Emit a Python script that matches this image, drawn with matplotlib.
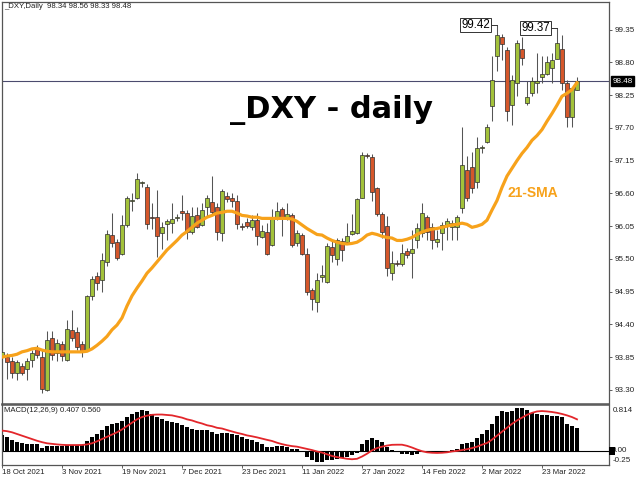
import matplotlib
matplotlib.use('Agg')
import matplotlib.pyplot as plt
import numpy as np
from matplotlib.transforms import blended_transform_factory
from matplotlib.patches import Rectangle

plt.rcParams['font.family'] = ['Liberation Sans', 'DejaVu Sans']

# ---------------- data ----------------
opens = [93.85, 93.85, 93.79, 93.58, 93.70, 93.65, 93.80, 93.99, 93.85, 93.30,
         94.17, 93.92, 94.07, 93.80, 94.30, 94.27, 94.07, 93.97, 94.88, 95.21,
         95.14, 95.45, 95.90, 95.78, 95.58, 96.07, 96.47, 96.53, 96.77, 96.70,
         96.20, 96.20, 95.93, 96.08, 96.10, 96.19, 96.30, 96.27, 95.95, 96.23,
         96.07, 96.37, 96.45, 96.37, 95.93, 96.55, 96.52, 96.47, 96.05, 96.12,
         96.03, 96.15, 95.86, 95.95, 95.73, 96.20, 96.33, 96.20, 96.23, 95.76,
         95.90, 95.58, 94.98, 94.77, 95.19, 95.11, 95.70, 95.50, 95.80, 95.78,
         95.91, 95.93, 96.53, 97.24, 97.21, 96.69, 96.25, 96.05, 95.26, 95.43,
         95.41, 95.63, 95.60, 95.81, 95.93, 96.20, 96.03, 95.78, 95.93, 96.05,
         96.03, 96.03, 96.35, 97.00, 97.04, 96.79, 97.36, 97.46, 98.06, 98.91,
         99.23, 99.01, 98.08, 98.46, 99.03, 98.11, 98.29, 98.46, 98.55, 98.61,
         98.70, 98.86, 99.03, 98.46, 97.88, 98.34]
highs = [94.17, 93.92, 93.85, 93.80, 93.75, 93.84, 93.97, 94.05, 93.97, 94.29,
         94.29, 94.15, 94.12, 94.47, 94.64, 94.35, 94.12, 94.89, 95.21, 95.28,
         95.60, 95.98, 96.27, 95.83, 96.23, 96.55, 96.60, 96.94, 96.80, 96.75,
         96.43, 96.65, 96.12, 96.17, 96.43, 96.25, 96.57, 96.32, 96.37, 96.37,
         96.43, 96.57, 96.89, 96.43, 96.67, 96.62, 96.60, 96.58, 96.10, 96.18,
         96.23, 96.27, 96.07, 96.10, 96.33, 96.45, 96.37, 96.43, 96.27, 95.98,
         95.93, 95.68, 95.01, 95.26, 95.39, 95.76, 95.81, 95.85, 95.85, 96.10,
         96.25, 96.53, 97.29, 97.27, 97.26, 96.70, 96.28, 96.22, 95.63, 95.48,
         95.75, 95.68, 95.98, 96.10, 96.43, 96.23, 96.10, 95.98, 96.12, 96.18,
         96.15, 96.23, 97.71, 97.22, 97.29, 97.54, 97.41, 97.77, 98.91, 99.42,
         99.28, 99.05, 98.58, 99.17, 99.23, 98.48, 98.55, 98.95, 98.91, 98.91,
         98.95, 99.37, 99.25, 98.50, 98.38, 98.56]
lows = [93.80, 93.48, 93.50, 93.47, 93.55, 93.47, 93.69, 93.84, 93.25, 93.28,
        93.80, 93.79, 93.79, 93.79, 94.12, 93.97, 93.85, 93.95, 94.81, 94.98,
        94.94, 95.38, 95.70, 95.48, 95.56, 96.03, 96.30, 96.50, 96.70, 96.00,
        96.00, 95.53, 95.66, 95.81, 95.93, 96.13, 96.15, 95.83, 95.91, 96.02,
        96.05, 96.20, 96.25, 95.81, 95.80, 96.45, 96.37, 96.00, 95.98, 96.02,
        95.98, 95.73, 95.85, 95.56, 95.71, 96.15, 95.88, 96.15, 95.70, 95.71,
        95.56, 94.89, 94.64, 94.61, 95.11, 95.09, 95.45, 95.40, 95.46, 95.76,
        95.90, 95.91, 96.52, 97.19, 96.48, 96.22, 95.85, 95.21, 95.14, 95.38,
        95.38, 95.51, 95.18, 95.68, 95.86, 95.81, 95.66, 95.70, 95.65, 95.81,
        95.81, 95.81, 96.27, 96.48, 96.60, 96.69, 97.27, 97.44, 97.82, 98.66,
        98.83, 97.82, 97.74, 98.24, 98.75, 98.08, 98.24, 98.29, 98.45, 98.58,
        98.45, 98.85, 98.33, 97.71, 97.71, 98.33]
closes = [93.94, 93.77, 93.58, 93.77, 93.58, 93.79, 93.92, 93.89, 93.32, 94.14,
          93.89, 94.09, 93.87, 94.32, 94.17, 94.02, 93.95, 94.88, 95.16, 95.09,
          95.48, 95.91, 95.76, 95.51, 96.07, 96.52, 96.48, 96.84, 96.79, 96.08,
          96.19, 95.88, 96.03, 96.13, 96.17, 96.20, 96.27, 95.95, 96.22, 96.03,
          96.32, 96.53, 96.28, 95.95, 96.64, 96.50, 96.47, 96.08, 96.03, 96.05,
          96.15, 95.88, 95.96, 95.58, 96.20, 96.30, 96.20, 96.25, 95.73, 95.93,
          95.58, 94.94, 94.82, 95.14, 95.23, 95.71, 95.56, 95.81, 95.65, 95.88,
          95.96, 96.50, 97.24, 97.22, 96.62, 96.25, 95.96, 95.34, 95.43, 95.42,
          95.60, 95.56, 95.66, 96.02, 96.27, 95.96, 95.81, 95.83, 96.07, 96.13,
          96.10, 96.20, 97.07, 96.53, 96.69, 97.36, 97.37, 97.72, 98.51, 99.25,
          99.10, 97.99, 98.51, 99.12, 98.88, 98.21, 98.49, 98.49, 98.61, 98.80,
          98.83, 99.12, 98.46, 97.88, 98.36, 98.48]
sma21 = [93.85, 93.87, 93.88, 93.90, 93.94, 93.96, 93.99, 94.00, 93.97, 93.95,
         93.94, 93.94, 93.94, 93.94, 93.94, 93.94, 93.94, 93.95, 93.99, 94.05,
         94.12, 94.20, 94.31, 94.39, 94.51, 94.71, 94.88, 95.01, 95.13, 95.26,
         95.35, 95.45, 95.55, 95.65, 95.73, 95.81, 95.90, 95.96, 96.03, 96.10,
         96.15, 96.20, 96.23, 96.27, 96.28, 96.30, 96.30, 96.27, 96.23, 96.22,
         96.20, 96.20, 96.18, 96.18, 96.18, 96.18, 96.18, 96.18, 96.17, 96.13,
         96.07, 96.01, 95.96, 95.91, 95.90, 95.85, 95.81, 95.78, 95.76, 95.75,
         95.76, 95.78, 95.83, 95.90, 95.93, 95.91, 95.88, 95.86, 95.85, 95.81,
         95.81, 95.83, 95.86, 95.91, 95.95, 95.98, 96.00, 96.01, 96.03, 96.05,
         96.07, 96.08, 96.10, 96.08, 96.03, 96.05, 96.08, 96.15, 96.32, 96.48,
         96.70, 96.89, 97.02, 97.15, 97.27, 97.37, 97.49, 97.57, 97.67, 97.81,
         97.94, 98.08, 98.23, 98.28, 98.34, 98.46]
macd_hist = [0.277, 0.247, 0.188, 0.157, 0.140, 0.116, 0.116, 0.116, 0.057, 0.086,
             0.086, 0.093, 0.093, 0.098, 0.110, 0.110, 0.098, 0.176, 0.247, 0.295,
             0.367, 0.438, 0.474, 0.486, 0.533, 0.605, 0.647, 0.695, 0.725, 0.707,
             0.647, 0.594, 0.558, 0.533, 0.510, 0.486, 0.462, 0.426, 0.397, 0.379,
             0.367, 0.367, 0.336, 0.307, 0.318, 0.318, 0.307, 0.277, 0.247, 0.218,
             0.200, 0.157, 0.129, 0.068, 0.068, 0.086, 0.086, 0.068, 0.039, 0.027,
             0.005, -0.110, -0.157, -0.200, -0.200, -0.170, -0.157, -0.140, -0.120, -0.110,
             -0.080, -0.040, 0.116, 0.200, 0.229, 0.200, 0.157, 0.068, 0.009, -0.020,
             -0.050, -0.063, -0.080, -0.063, -0.020, -0.010, -0.020, -0.025, -0.020, -0.010,
             0.010, 0.027, 0.116, 0.140, 0.157, 0.236, 0.295, 0.367, 0.474, 0.617,
             0.707, 0.695, 0.712, 0.755, 0.755, 0.725, 0.677, 0.647, 0.635, 0.630,
             0.623, 0.617, 0.605, 0.474, 0.438, 0.407]
macd_signal = [0.36, 0.35, 0.33, 0.30, 0.27, 0.24, 0.21, 0.18, 0.155, 0.135,
               0.125, 0.115, 0.108, 0.104, 0.104, 0.104, 0.105, 0.115, 0.135, 0.17,
               0.21, 0.25, 0.29, 0.33, 0.38, 0.44, 0.50, 0.56, 0.60, 0.625,
               0.64, 0.645, 0.645, 0.637, 0.63, 0.61, 0.59, 0.56, 0.54, 0.51,
               0.486, 0.455, 0.438, 0.41, 0.397, 0.37, 0.345, 0.32, 0.30, 0.275,
               0.259, 0.24, 0.218, 0.196, 0.176, 0.145, 0.12, 0.10, 0.085, 0.075,
               0.055, 0.035, 0.015, -0.01, -0.03, -0.06, -0.09, -0.11, -0.125, -0.14,
               -0.148, -0.14, -0.10, -0.05, 0.01, 0.05, 0.075, 0.095, 0.108, 0.11,
               0.11, 0.09, 0.06, 0.025, -0.005, -0.025, -0.033, -0.036, -0.033, -0.025,
               -0.01, 0.0, 0.015, 0.03, 0.05, 0.075, 0.11, 0.14, 0.20, 0.27,
               0.34, 0.41, 0.48, 0.54, 0.59, 0.64, 0.675, 0.70, 0.707, 0.70,
               0.69, 0.675, 0.655, 0.63, 0.60, 0.56]
date_labels = ['18 Oct 2021', '3 Nov 2021', '19 Nov 2021', '7 Dec 2021', '23 Dec 2021',
               '11 Jan 2022', '27 Jan 2022', '14 Feb 2022', '2 Mar 2022', '23 Mar 2022']
date_label_idx = [0, 12, 24, 36, 48, 60, 72, 84, 96, 108]
price_ticks = [99.35, 98.80, 98.25, 97.70, 97.15, 96.60, 96.05, 95.50, 94.95, 94.40, 93.85, 93.30]
swing_idx = [99, 111]
swing_val = [99.42, 99.37]
last_price = 98.48
macd_max, macd_min = 0.814, -0.25

# ---------------- figure ----------------
W, H = 640, 480
fig = plt.figure(figsize=(6.4, 4.8), dpi=100)
ax = fig.add_axes([1.5 / W, 1 - 404 / H, (609 - 1.5) / W, (404 - 1.5) / H])
axm = fig.add_axes([1.5 / W, 1 - 465 / H, (609 - 1.5) / W, (465 - 405) / H], sharex=ax)

x = np.arange(len(opens))
o = np.array(opens); c = np.array(closes); h = np.array(highs); l = np.array(lows)
up = c >= o

GREEN = '#A3C23A'
RED = '#D5572B'
EDGE = '#2E2E2E'

ax.axhline(last_price, color='#4B4B6E', lw=0.8, zorder=1)
ax.vlines(x, l, h, color='#555555', lw=0.75, zorder=2)
bb = np.minimum(o, c)
bh = np.maximum(np.abs(c - o), 0.012)
ax.bar(x[up], bh[up], bottom=bb[up], width=0.62, color=GREEN, edgecolor=EDGE, lw=0.5, zorder=3)
ax.bar(x[~up], bh[~up], bottom=bb[~up], width=0.62, color=RED, edgecolor=EDGE, lw=0.5, zorder=3)

ax.plot(x, sma21, color='#F7A21B', lw=2.3, zorder=4, solid_capstyle='round', solid_joinstyle='round')

ax.set_xlim(-0.1, 121.4)
ax.set_ylim(93.065, 99.82)

# swing-high labels
for i, v in zip(swing_idx, swing_val):
    ax.plot([i - 1.3, i], [v, v], color='#333333', lw=0.7, zorder=5)
    ax.text(i - 1.45, v, f'{v:.2f}', ha='right', va='center', fontsize=8.3, color='black',
            bbox=dict(boxstyle='square,pad=0.1', fc='white', ec='#333333', lw=0.7), zorder=6)

# title texts
ax.text(45.6, 97.86, '_DXY - daily', fontsize=22, fontweight='bold', family='DejaVu Sans',
        ha='left', va='baseline', color='black', zorder=7)
ax.text(101.0, 96.54, '21-SMA', fontsize=10, fontweight='bold', color='#F7A21B',
        ha='left', va='baseline', zorder=7)

# price axis
ax.yaxis.tick_right()
ax.set_yticks(price_ticks)
ax.set_yticklabels([f'{v:.2f}' for v in price_ticks])
ax.tick_params(axis='y', direction='out', length=2.5, width=0.6, color='#444444',
               labelsize=5.8, pad=1.2, labelcolor='#222222')
ax.tick_params(axis='x', bottom=False, labelbottom=False)

tr = blended_transform_factory(ax.transAxes, ax.transData)
ax.text(1.0055, last_price, f'{last_price:.2f}', transform=tr, ha='left', va='center',
        fontsize=5.8, color='white',
        bbox=dict(boxstyle='square,pad=0.2', fc='black', ec='black'), zorder=8, clip_on=False)

for sp in ax.spines.values():
    sp.set_color('#555555')
    sp.set_linewidth(0.9)
ax.spines['bottom'].set_linewidth(1.1)

# ---------------- MACD ----------------
axm.bar(x, macd_hist, width=0.78, color='black', lw=0, zorder=2)
axm.plot(x, macd_signal, color='#E3262B', lw=1.3, zorder=3)
axm.axhline(0, color='black', lw=0.8, zorder=1)
axm.set_ylim(macd_min, macd_max)
axm.set_yticks([])
for sp in axm.spines.values():
    sp.set_color('#555555')
    sp.set_linewidth(0.9)
axm.spines['top'].set_linewidth(1.1)

trm = blended_transform_factory(axm.transAxes, axm.transData)
axm.text(1.006, macd_max - 0.04, f'{macd_max:.3f}', transform=trm, ha='left', va='top',
         fontsize=5.8, color='#222222', clip_on=False)
axm.text(1.006, macd_min + 0.02, f'{macd_min:.2f}', transform=trm, ha='left', va='bottom',
         fontsize=5.8, color='#222222', clip_on=False)
axm.add_patch(Rectangle((1.0, -0.075), 6 / 607.5, 0.15, transform=trm, fc='black', ec='none',
                        clip_on=False, zorder=5))
axm.text(1.004, 0.0, '0.00', transform=trm, ha='left', va='center', fontsize=5.8,
         color='#222222', clip_on=False, zorder=4)

axm.set_xticks(date_label_idx)
axm.set_xticklabels(date_labels)
for lab in axm.get_xticklabels():
    lab.set_ha('left')
axm.tick_params(axis='x', direction='out', length=2.2, width=0.6, color='#444444',
                labelsize=5.6, pad=1.0, labelcolor='#222222')

# header texts
fig.text(4 / W, 1 - 7 / H,
         f'_DXY,Daily  {opens[-1]:.2f} {highs[-1]:.2f} {lows[-1]:.2f} {closes[-1]:.2f}',
         ha='left', va='center', fontsize=5.6, color='#222222')
fig.text(4 / W, 1 - 410.5 / H,
         f'MACD(12,26,9) {macd_hist[-1]:.3f} {macd_signal[-1]:.3f}',
         ha='left', va='center', fontsize=5.6, color='#222222')

fig.savefig('out.png', dpi=100)
